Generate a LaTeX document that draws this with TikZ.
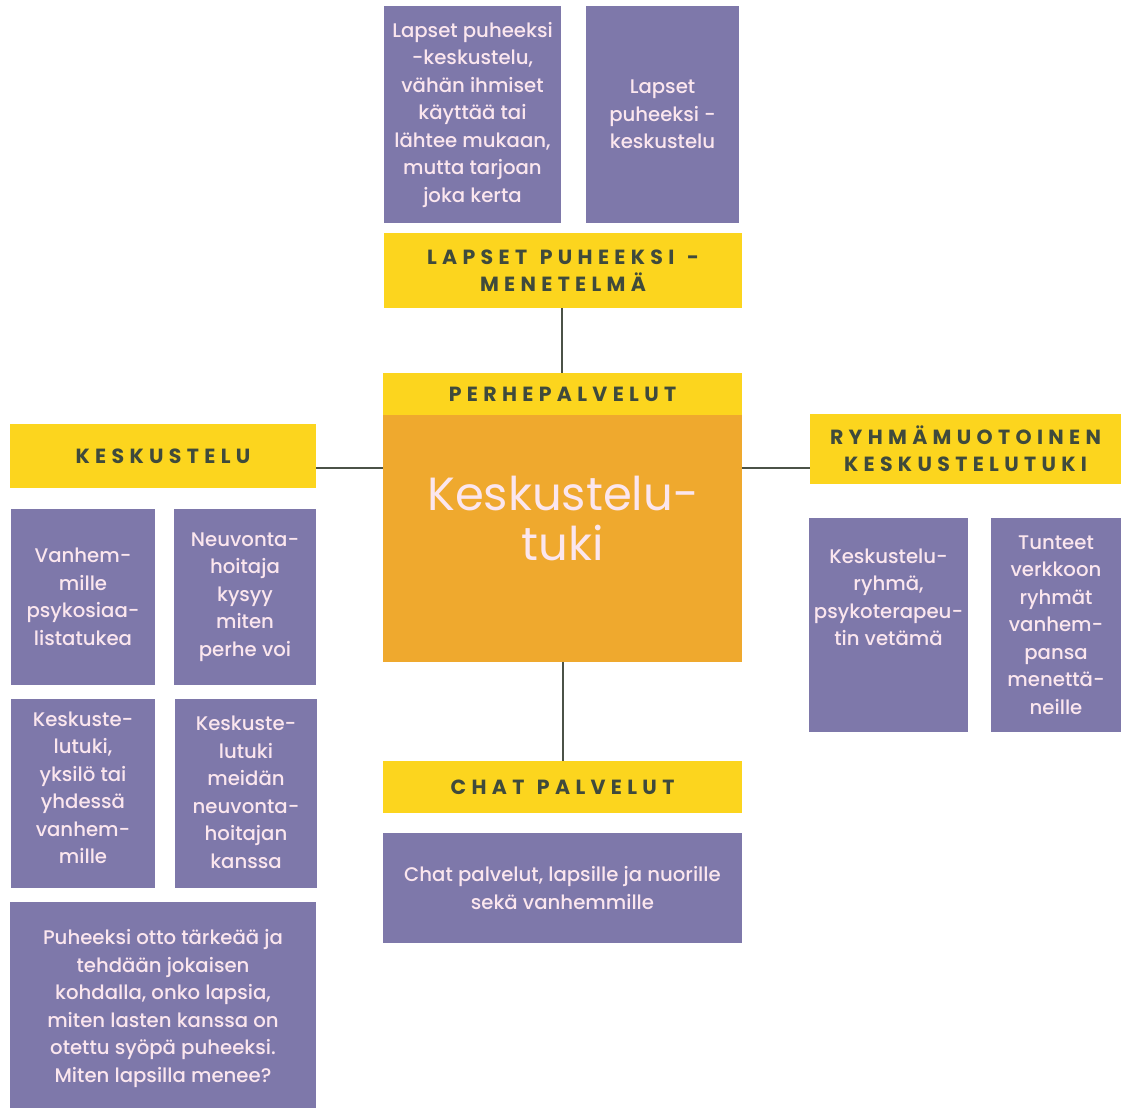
\documentclass[tikz,border=0pt]{standalone}
\usepackage{fontspec}
\setmainfont{Poppins}[UprightFont=* Medium]
\newfontfamily\ttlfont{Poppins}[LetterSpace=26,WordSpace=1.3]
\newfontfamily\ctrfont{Poppins}
\definecolor{pur}{HTML}{7E78AA}
\definecolor{yel}{HTML}{FCD51E}
\definecolor{ora}{HTML}{EFA92E}
\definecolor{ptxt}{HTML}{FBE6EE}
\definecolor{dark}{HTML}{3F4A3C}
\definecolor{lnc}{HTML}{4B5247}
\begin{document}
\begin{tikzpicture}[x=1pt,y=-1pt,
  box/.style={inner sep=0pt,outer sep=0pt,minimum width=#1},
  btxt/.style={text=ptxt,align=center,font=\fontsize{19.7}{27.5}\selectfont},
  pbox/.style={box=#1,fill=pur,btxt},
  ptxtnode/.style={btxt,inner sep=0pt},
  ybox/.style={box=#1,fill=yel,text=dark,align=center,font=\ttlfont\bfseries\fontsize{20.5}{27}\selectfont},
  conn/.style={draw=lnc,line width=1.5pt}]
\useasboundingbox (0,0) rectangle (1121,1108);
% top
\node[pbox=177,minimum height=217] (tl) at (472.5,114.5) {Lapset puheeksi\\-keskustelu,\\vähän ihmiset\\käyttää tai\\lähtee mukaan,\\mutta tarjoan\\joka kerta};
\node[pbox=153,minimum height=217] (tr) at (662.5,114.5) {Lapset\\puheeksi -\\keskustelu};
\node[ybox=358,minimum height=75] (ylp) at (563,270.5) {LAPSET PUHEEKSI -\\MENETELMÄ};
% center
\node[ybox=359,minimum height=42] (yper) at (562.5,394) {PERHEPALVELUT};
\node[box=359,minimum height=247,fill=ora] (ora) at (562.5,538.5) {};
\node[text=ptxt,align=center,font=\ctrfont\fontsize{46.5}{50}\selectfont,inner sep=0pt] (ctxt) at (563,518) {Keskustelu-\\tuki};
% left
\node[ybox=306,minimum height=64] (ykes) at (163,456) {KESKUSTELU};
\node[pbox=144,minimum height=176] (p1) at (83,597) {Vanhem-\\mille\\psykosiaa-\\listatukea};
\node[pbox=142,minimum height=176] (p2) at (245,597) {Neuvonta-\\hoitaja\\kysyy\\miten\\perhe voi};
\node[pbox=144,minimum height=189] (p3) at (83,793.5) {};
\node[ptxtnode] (p3t) at (83,788) {Keskuste-\\lutuki,\\yksilö tai\\yhdessä\\vanhem-\\mille};
\node[pbox=142,minimum height=189] (p4) at (246,793.5) {};
\node[ptxtnode] (p4t) at (246,792.5) {Keskuste-\\lutuki\\meidän\\neuvonta-\\hoitajan\\kanssa};
\node[pbox=306,minimum height=206] (pb) at (163,1005) {};
\node[ptxtnode] (pbt) at (163,1008.5) {Puheeksi otto tärkeää ja\\tehdään jokaisen\\kohdalla, onko lapsia,\\miten lasten kanssa on\\otettu syöpä puheeksi.\\Miten lapsilla menee?};
% right
\node[ybox=311,minimum height=70] (yryh) at (965.5,449) {RYHMÄMUOTOINEN\\KESKUSTELUTUKI};
\node[pbox=159,minimum height=214] (r1) at (888.5,625) {};
\node[ptxtnode] (r1t) at (888.5,597.5) {Keskustelu-\\ryhmä,\\psykoterapeu-\\tin vetämä};
\node[pbox=130,minimum height=214] (r2) at (1056,625) {Tunteet\\verkkoon\\ryhmät\\vanhem-\\pansa\\menettä-\\neille};
% bottom
\node[ybox=359,minimum height=52] (ychat) at (562.5,787) {CHAT PALVELUT};
\node[pbox=359,minimum height=110] (pchat) at (562.5,888) {Chat palvelut, lapsille ja nuorille\\sekä vanhemmille};
% connectors
\coordinate (hy) at (0,468);
\draw[conn] ([xshift=-1pt]ylp.south) -- ([xshift=-0.5pt]yper.north);
\draw[conn] (ykes.east |- hy) -- (ora.west |- hy);
\draw[conn] (ora.east |- hy) -- (yryh.west |- hy);
\draw[conn] ([xshift=0.5pt]ora.south) -- ([xshift=0.5pt]ychat.north);
\end{tikzpicture}
\end{document}
